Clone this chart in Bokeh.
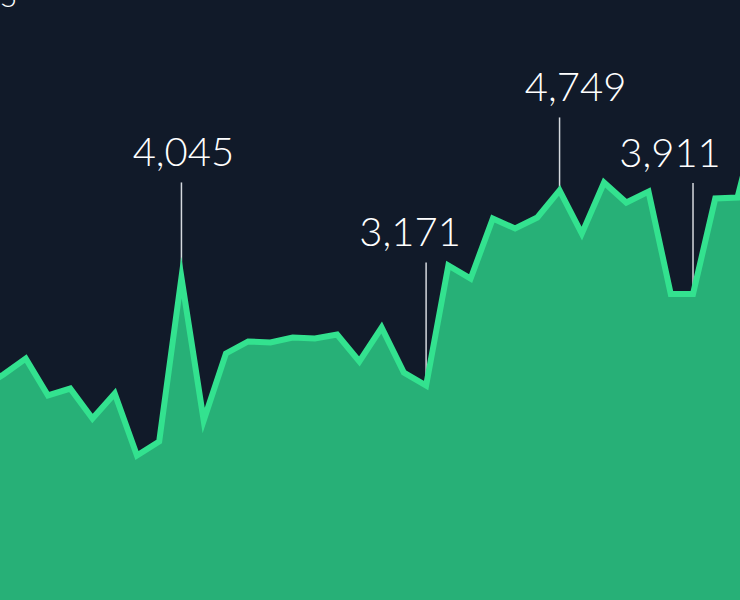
from bokeh.plotting import figure
from bokeh.models import Range1d, ColumnDataSource
from bokeh.core.properties import value
from bokeh.embed import file_html
from bokeh.resources import INLINE

# ---- data ----
idx = list(range(-1, 35))
vals = [3150, 3260, 3389, 3090, 3146, 2904, 3106, 2604, 2718, 4045,
        2888, 3430, 3527, 3519, 3559, 3551, 3583, 3365, 3640, 3276,
        3171, 4142, 4035, 4522, 4441, 4530, 4749, 4400, 4813, 4651,
        4740, 3911, 3911, 4684, 4692, 5400]
label_idx = [8, 19, 25, 31]
label_text = ["4,045", "3,171", "4,749", "3,911"]
title_text = "S"

# ---- layout / style ----
W, H = 742, 602
x_start, x_end = -0.18, 33.18
y_start, y_end = 1423, 6294
ppu = H / (y_end - y_start)           # pixels per data unit
callout_px = [95, 123, 73, 111]       # callout length in px
label_dx = [2, -16, 16, -23]          # text offset in px
BG = "#111a29"
AREA = "#27b077"
LINE = "#33e28f"

p = figure(width=W, height=H, output_backend="svg", toolbar_location=None,
           x_range=Range1d(x_start, x_end), y_range=Range1d(y_start, y_end),
           min_border=0, min_border_left=0, min_border_right=0,
           min_border_top=0, min_border_bottom=0)
p.styles = {"position": "absolute", "left": "-1px", "top": "-1px"}
p.background_fill_color = BG
p.border_fill_color = BG
p.outline_line_color = None
p.axis.visible = False
p.grid.visible = False

src = ColumnDataSource(dict(x=idx, y=vals, y0=[y_start - 500] * len(idx)))
p.varea(x="x", y1="y0", y2="y", source=src, fill_color=AREA)

lab_v = [vals[idx.index(i)] for i in label_idx]
tops = [v + c / ppu for v, c in zip(lab_v, callout_px)]
lsrc = ColumnDataSource(dict(x=label_idx, y=lab_v, top=tops, t=label_text, dx=label_dx))
p.segment(x0="x", y0="y", x1="x", y1="top", source=lsrc, line_color="#d5d9de", line_width=1.5)

p.line(x="x", y="y", source=src, line_color=LINE, line_width=6, line_join="miter")

p.text(x="x", y="top", text="t", source=lsrc, x_offset="dx", y_offset=-30,
       text_align="center", text_baseline="alphabetic",
       text_color="#ffffff", text_font=value("Lato Light"), text_font_size="40px")

p.text(x=[x_start], y=[y_end], text=[title_text], x_offset=1, y_offset=-5,
       text_align="left", text_baseline="alphabetic",
       text_color="#ffffff", text_font=value("Lato Light"), text_font_size="30px")

open("out.html", "w").write(file_html(p, INLINE))
